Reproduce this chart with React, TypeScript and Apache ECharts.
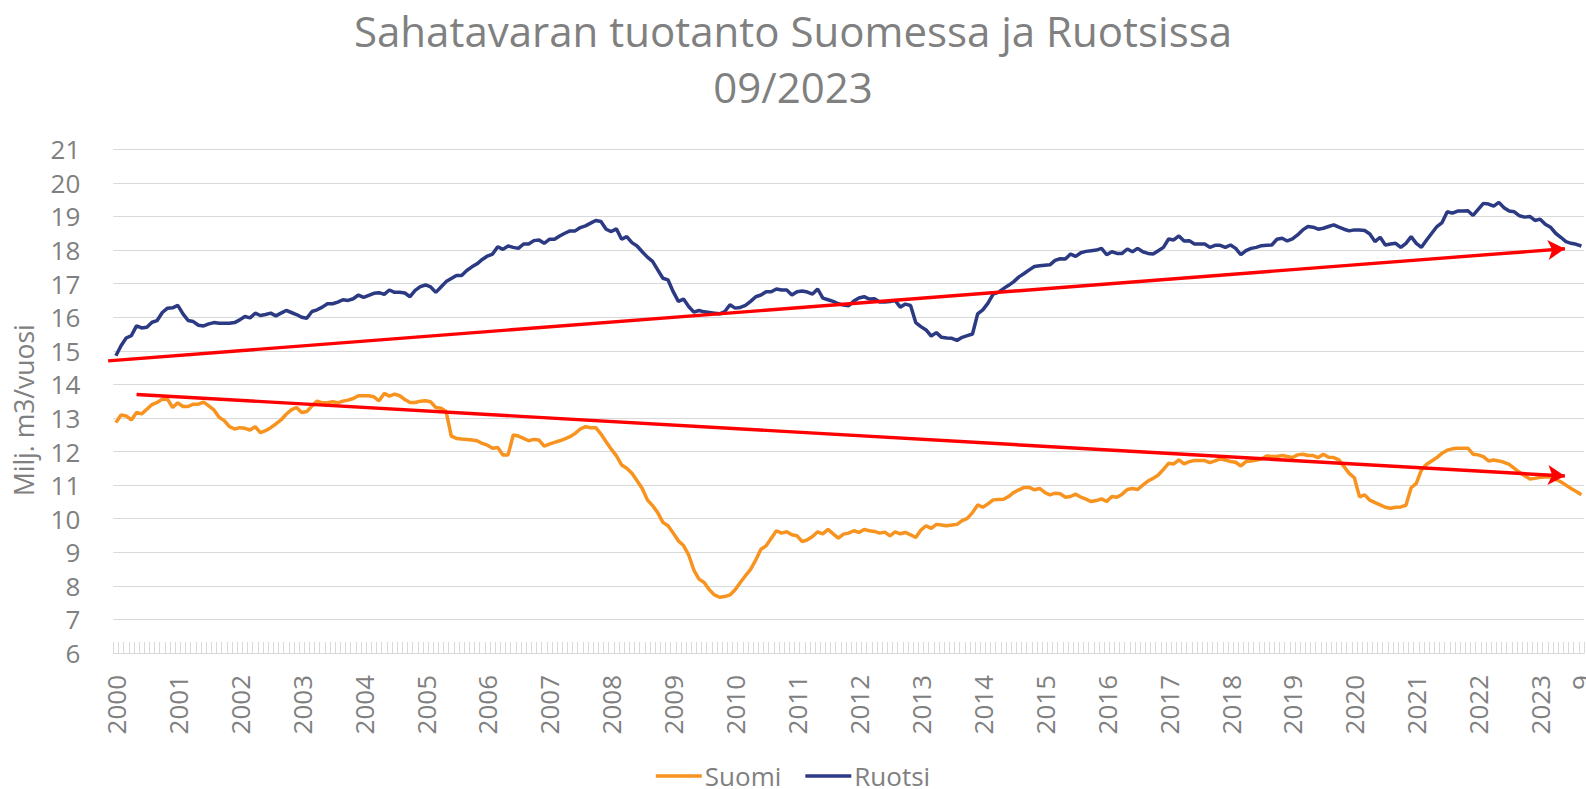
import React, { useEffect, useRef } from "react";
import * as echarts from "echarts";

const TITLE = "Sahatavaran tuotanto Suomessa ja Ruotsissa\n09/2023";
const Y_NAME = "Milj. m3/vuosi";
const YEARS = [2000, 2001, 2002, 2003, 2004, 2005, 2006, 2007, 2008, 2009, 2010, 2011, 2012, 2013, 2014, 2015, 2016, 2017, 2018, 2019, 2020, 2021, 2022, 2023];
const MONTHS = ["1", "2", "3", "4", "5", "6", "7", "8", "9", "10", "11", "12"];
const LAST_MONTH_2023 = 9;

// Monthly values (Milj. m3/vuosi), 2000/01 .. 2023/09
const suomi = [
  12.86, 13.09, 13.06, 12.94, 13.16, 13.12, 13.26, 13.40, 13.46, 13.56, 13.56, 13.31,
  13.45, 13.34, 13.34, 13.41, 13.41, 13.47, 13.36, 13.24, 13.02, 12.92, 12.74, 12.67,
  12.71, 12.69, 12.64, 12.74, 12.56, 12.62, 12.71, 12.82, 12.94, 13.11, 13.24, 13.31,
  13.16, 13.19, 13.36, 13.50, 13.45, 13.45, 13.48, 13.45, 13.50, 13.53, 13.58, 13.66,
  13.66, 13.66, 13.63, 13.51, 13.73, 13.65, 13.71, 13.66, 13.55, 13.46, 13.46, 13.50,
  13.51, 13.48, 13.31, 13.29, 13.19, 12.46, 12.39, 12.37, 12.36, 12.34, 12.32, 12.24,
  12.19, 12.10, 12.12, 11.90, 11.90, 12.49, 12.46, 12.39, 12.32, 12.36, 12.34, 12.16,
  12.22, 12.27, 12.32, 12.38, 12.44, 12.54, 12.67, 12.74, 12.71, 12.71, 12.52, 12.29,
  12.07, 11.87, 11.60, 11.50, 11.35, 11.13, 10.90, 10.56, 10.39, 10.18, 9.89, 9.79,
  9.57, 9.34, 9.20, 8.92, 8.47, 8.20, 8.10, 7.88, 7.73, 7.66, 7.68, 7.73,
  7.88, 8.10, 8.30, 8.49, 8.77, 9.09, 9.19, 9.42, 9.64, 9.57, 9.61, 9.52,
  9.49, 9.32, 9.37, 9.47, 9.61, 9.55, 9.68, 9.55, 9.42, 9.54, 9.57, 9.64,
  9.59, 9.68, 9.64, 9.62, 9.57, 9.60, 9.49, 9.61, 9.55, 9.59, 9.52, 9.44,
  9.66, 9.79, 9.71, 9.83, 9.81, 9.79, 9.81, 9.83, 9.94, 10.01, 10.18, 10.41,
  10.34, 10.44, 10.56, 10.57, 10.58, 10.66, 10.78, 10.86, 10.93, 10.93, 10.86, 10.90,
  10.78, 10.71, 10.76, 10.74, 10.64, 10.66, 10.73, 10.64, 10.58, 10.51, 10.54, 10.59,
  10.51, 10.66, 10.64, 10.73, 10.87, 10.90, 10.87, 11.00, 11.12, 11.20, 11.30, 11.47,
  11.65, 11.63, 11.75, 11.63, 11.70, 11.73, 11.73, 11.73, 11.67, 11.72, 11.78, 11.75,
  11.70, 11.68, 11.57, 11.70, 11.72, 11.75, 11.78, 11.87, 11.85, 11.85, 11.88, 11.85,
  11.82, 11.90, 11.92, 11.88, 11.88, 11.82, 11.92, 11.83, 11.82, 11.75, 11.55, 11.35,
  11.22, 10.65, 10.71, 10.55, 10.48, 10.41, 10.34, 10.31, 10.34, 10.35, 10.40, 10.92,
  11.05, 11.45, 11.62, 11.72, 11.82, 11.95, 12.04, 12.08, 12.10, 12.10, 12.10, 11.92,
  11.90, 11.85, 11.72, 11.75, 11.72, 11.68, 11.62, 11.50, 11.38, 11.28, 11.18, 11.20,
  11.23, 11.24, 11.25, 11.17, 11.10, 11.00, 10.90, 10.81, 10.71,
];

const ruotsi = [
  14.85, 15.15, 15.38, 15.45, 15.74, 15.68, 15.70, 15.85, 15.90, 16.14, 16.27, 16.28,
  16.35, 16.10, 15.90, 15.87, 15.76, 15.74, 15.80, 15.84, 15.82, 15.82, 15.82, 15.84,
  15.92, 16.02, 15.98, 16.12, 16.05, 16.08, 16.12, 16.04, 16.12, 16.20, 16.14, 16.08,
  16.00, 15.97, 16.17, 16.22, 16.30, 16.40, 16.40, 16.45, 16.52, 16.50, 16.55, 16.66,
  16.59, 16.65, 16.71, 16.73, 16.68, 16.81, 16.74, 16.74, 16.72, 16.61, 16.80, 16.91,
  16.96, 16.90, 16.74, 16.90, 17.06, 17.15, 17.24, 17.24, 17.39, 17.50, 17.59, 17.72,
  17.82, 17.88, 18.10, 18.02, 18.12, 18.08, 18.05, 18.18, 18.18, 18.28, 18.30, 18.20,
  18.32, 18.32, 18.42, 18.50, 18.57, 18.57, 18.67, 18.72, 18.80, 18.88, 18.85, 18.62,
  18.55, 18.63, 18.32, 18.40, 18.22, 18.12, 17.95, 17.79, 17.66, 17.41, 17.16, 17.11,
  16.76, 16.47, 16.54, 16.32, 16.15, 16.20, 16.16, 16.14, 16.12, 16.10, 16.17, 16.37,
  16.27, 16.29, 16.35, 16.47, 16.61, 16.66, 16.76, 16.76, 16.84, 16.81, 16.81, 16.66,
  16.76, 16.78, 16.75, 16.69, 16.84, 16.57, 16.52, 16.47, 16.40, 16.36, 16.34, 16.48,
  16.57, 16.61, 16.54, 16.55, 16.45, 16.45, 16.47, 16.50, 16.30, 16.39, 16.35, 15.84,
  15.72, 15.62, 15.44, 15.54, 15.40, 15.38, 15.37, 15.31, 15.40, 15.45, 15.50, 16.10,
  16.22, 16.42, 16.69, 16.74, 16.85, 16.95, 17.06, 17.20, 17.30, 17.41, 17.51, 17.53,
  17.55, 17.56, 17.69, 17.74, 17.73, 17.88, 17.81, 17.92, 17.96, 17.98, 18.00, 18.05,
  17.86, 17.95, 17.90, 17.90, 18.03, 17.95, 18.05, 17.95, 17.90, 17.88, 17.98, 18.08,
  18.33, 18.30, 18.42, 18.27, 18.28, 18.18, 18.18, 18.18, 18.08, 18.14, 18.14, 18.08,
  18.15, 18.05, 17.86, 17.98, 18.05, 18.08, 18.13, 18.14, 18.15, 18.32, 18.35, 18.27,
  18.33, 18.45, 18.60, 18.70, 18.68, 18.62, 18.65, 18.70, 18.75, 18.68, 18.62, 18.57,
  18.60, 18.60, 18.58, 18.48, 18.25, 18.38, 18.15, 18.18, 18.20, 18.08, 18.20, 18.40,
  18.20, 18.08, 18.30, 18.50, 18.70, 18.82, 19.14, 19.10, 19.16, 19.16, 19.17, 19.03,
  19.21, 19.39, 19.37, 19.31, 19.42, 19.26, 19.16, 19.14, 19.02, 18.98, 19.00, 18.88,
  18.92, 18.77, 18.68, 18.50, 18.38, 18.25, 18.20, 18.17, 18.12,
];

// Trend arrows: [monthIndex, value] start and end
const trendRuotsi = [[-1.5, 14.7], [280.8, 18.04]];
const trendSuomi = [[4.0, 13.7], [280.8, 11.27]];

const categories: string[] = [];
YEARS.forEach((y) => {
  MONTHS.forEach((m, mi) => {
    if (y === 2023 && mi >= LAST_MONTH_2023) return;
    categories.push(mi === 0 ? String(y) : m);
  });
});

const FONT = "'Open Sans', 'Noto Sans', sans-serif";
const GRAY = "#808080";
const LIGHT = "#d9d9d9";

export default function App() {
  const ref = useRef<HTMLDivElement>(null);
  useEffect(() => {
    if (!ref.current) return;
    const chart = echarts.init(ref.current, null, { renderer: "svg" });
    const n = categories.length;
    const gridTop = 149.3;
    const gridBottom = 136;
    const gridLeft = 113.3;
    const gridRight = 2;
    const bandW = (1586 - gridLeft - gridRight) / n;
    const trendSeries = (name: string, pts: number[][]) => ({
      name,
      type: "line",
      xAxisIndex: 1,
      yAxisIndex: 1,
      data: pts,
      symbol: "none",
      lineStyle: { opacity: 0 },
      silent: true,
      z: 5,
      markLine: {
        silent: true,
        symbol: ["none", "arrow"],
        symbolSize: [15, 17],
        label: { show: false },
        emphasis: { disabled: true },
        lineStyle: { color: "#ff0000", width: 3.4, type: "solid" },
        data: [[{ coord: pts[0] }, { coord: pts[1] }]],
      },
    });
    chart.setOption({
      animation: false,
      backgroundColor: "#ffffff",
      textStyle: { fontFamily: FONT },
      title: {
        text: TITLE,
        left: "center",
        top: -3,
        textStyle: {
          fontFamily: FONT,
          fontSize: 42,
          fontWeight: "normal",
          color: GRAY,
          lineHeight: 56,
        },
      },
      legend: {
        data: ["Suomi", "Ruotsi"],
        left: "center",
        top: 757,
        icon: "rect",
        itemWidth: 46,
        itemHeight: 3.5,
        itemGap: 24,
        textStyle: { fontFamily: FONT, fontSize: 26, color: GRAY, lineHeight: 28, padding: [0, 0, 0, -2] },
      },
      grid: [
        { left: gridLeft, right: gridRight, top: gridTop, bottom: gridBottom, containLabel: false, outerBoundsMode: "none" },
        { left: gridLeft - bandW, right: gridRight, top: gridTop, bottom: gridBottom, containLabel: false, outerBoundsMode: "none" },
      ],
      xAxis: [
        {
          type: "category",
          gridIndex: 0,
          data: categories,
          boundaryGap: true,
          axisLine: { show: true, lineStyle: { color: LIGHT, width: 1 } },
          axisTick: { show: true, interval: 0, inside: true, length: 11, lineStyle: { color: LIGHT } },
          axisLabel: {
            interval: (idx: number) => idx % 12 === 0 || idx === n - 1,
            rotate: 90,
            margin: 22,
            fontFamily: FONT,
            fontSize: 26,
            color: GRAY,
          },
          splitLine: { show: false },
        },
        { type: "value", gridIndex: 1, min: -1.5, max: n - 0.5, show: false },
      ],
      yAxis: [
        {
          type: "value",
          gridIndex: 0,
          min: 6,
          max: 21,
          interval: 1,
          name: Y_NAME,
          nameLocation: "middle",
          nameGap: 76,
          nameTextStyle: { fontFamily: FONT, fontSize: 26.5, color: GRAY, padding: [0, 18, 0, 0] },
          axisLine: { show: false },
          axisTick: { show: false },
          axisLabel: { fontFamily: FONT, fontSize: 26, color: GRAY, margin: 33 },
          splitLine: { show: true, lineStyle: { color: LIGHT, width: 1 } },
        },
        { type: "value", gridIndex: 1, min: 6, max: 21, show: false },
      ],
      series: [
        {
          name: "Suomi",
          type: "line",
          data: suomi,
          symbol: "none",
          showSymbol: false,
          lineStyle: { color: "#F7931E", width: 3.5 },
          itemStyle: { color: "#F7931E" },
          z: 3,
        },
        {
          name: "Ruotsi",
          type: "line",
          data: ruotsi,
          symbol: "none",
          showSymbol: false,
          lineStyle: { color: "#2B3A82", width: 3.5 },
          itemStyle: { color: "#2B3A82" },
          z: 3,
        },
        trendSeries("trendRuotsi", trendRuotsi),
        trendSeries("trendSuomi", trendSuomi),
      ],
    });
    return () => chart.dispose();
  }, []);
  return (
    <div
      ref={ref}
      style={{ position: "absolute", left: 0, top: 0, width: "1586px", height: "789px" }}
    />
  );
}
